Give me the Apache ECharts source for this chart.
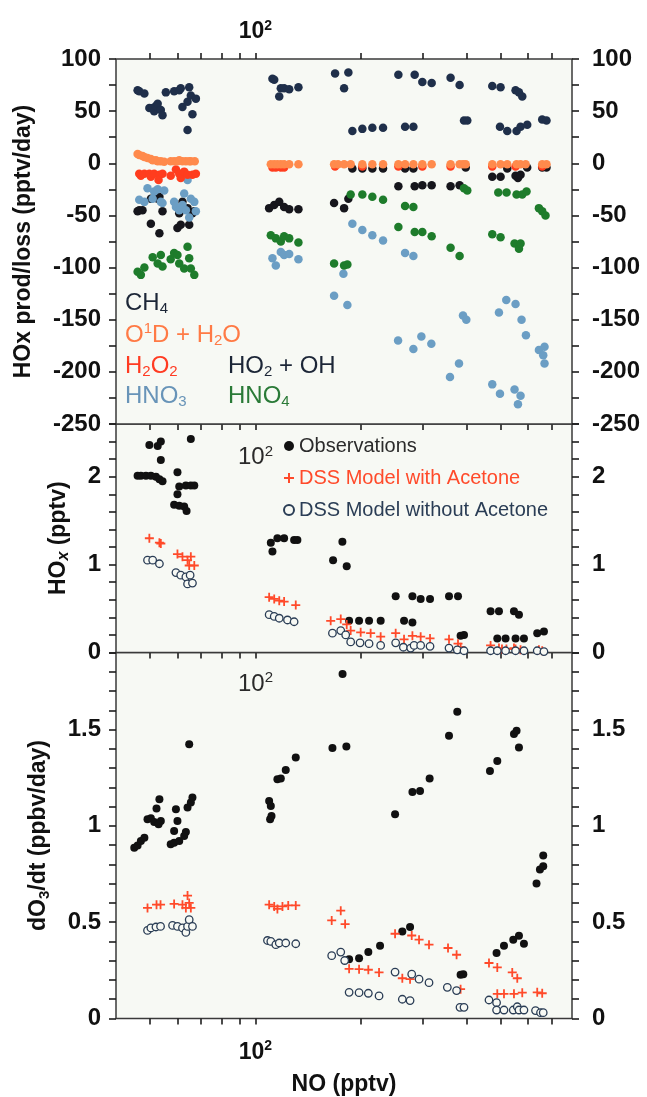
<!DOCTYPE html>
<html><head><meta charset="utf-8">
<script src="https://cdn.jsdelivr.net/npm/echarts@6.0.0/dist/echarts.min.js"></script>
<style>html,body{margin:0;padding:0;background:#fff}
#wrap{position:relative;width:647px;height:1097px;background:#fff}
.layer{position:absolute;left:0;top:0;width:647px;height:1097px}</style>
</head><body><div id="wrap">
<div class="layer" id="cBot"></div><div class="layer" id="cMid"></div><div class="layer" id="cTop"></div><div class="layer" id="cLeg"></div>
</div><script>
// ---------------- DATA (NO in pptv, value) ----------------
const ch4 = [[46.1,70],[46.6,69],[48.2,67],[49.8,53],[50.9,53],[51.4,50],[52.0,55],[52.6,57],[53.7,51],[54.3,46],[55.5,68],[58.6,69],[60.6,70],[61.2,72],[61.9,54],[64.0,59],[64.7,73],[65.4,65],[66.1,47],[64.0,32],[67.6,62],
[111.8,81],[113.1,80],[116.9,64],[118.1,72],[120.7,72],[124.8,71],[132.6,73],
[168.7,86],[179.0,72],[184.1,87],[189.0,31],[201.8,33],[215.5,34],[231.2,34],
[255.7,85],[267.2,35],[282.2,35],[284.6,85],[299.3,78],[318.2,77],
[360.3,82],[382.3,75],[393.5,41],[402.1,41],
[473.8,74],[500.4,73],[498.4,35],[522.9,31],[552.1,70],[564.6,68],[577.0,64],[555.8,31],[570.6,35],[596.2,37],[657.8,42],[676.7,41]];
const o1dH2o = [[46.1,9],[46.6,8],[47.6,7],[48.2,6],[49.2,5],[50.3,4],[50.9,3],[52.0,3],[52.6,2],[53.7,2],[54.9,1.5],[57.3,2],[58.6,2],[59.9,2],[60.6,3],[61.9,2],[63.3,2],[64.7,2],[65.4,2],[67.1,2],
[110.6,-1],[113.1,-1],[115.5,-1],[118.1,-1],[120.7,-1],[124.8,-1],[132.6,-1],[167.6,-1],[172,-1],[179.0,-1],[186.9,-1],[201.8,-1],[215.5,-1],[231.2,-1],[255.7,-1],[267.2,-1],[282.2,-1],[299.3,-1],[318.2,-1],[360.3,-1],[382.3,-1],[391,-1],[398,-1],[473.8,-1],[500.4,-1],[522.9,-1],[555.8,-1],[570.6,-1],[590,-1],[657.8,-1],[676.7,-1]];
const h2o2 = [[46.6,-10],[47.1,-12],[48.2,-10],[49.8,-10],[50.3,-13],[51.4,-10],[53.2,-11],[52.9,-16],[54.3,-10],[57.3,-12],[59.3,-6],[60.6,-10],[61.2,-14],[62.6,-8],[64.0,-11],[66.1,-11],[67.6,-10],
[111.8,-4],[114.3,-4],[118.1,-4],[120.7,-4],[168.7,-3],[201.8,-3],[255.7,-3],[299.3,-3],[360.3,-3],[473.8,-3],[552.1,-3],[657.8,-3]];
const ho2Oh = [[46.1,-46],[46.6,-45],[47.6,-45],[50.3,-34],[52.6,-34],[53.2,-32],[54.3,-46],[50.3,-58],[53.2,-67],[59.9,-62],[61.2,-59],[64.7,-59],[60.6,-48],[64.0,-43],[66.1,-48],[66.9,-46],[61.9,-37],
[109.4,-43],[113.1,-40],[116.9,-37],[120.7,-42],[124.8,-44],[132.6,-44],
[167.6,-38],[179.0,-43],[184.1,-34],
[189.0,-5],[201.8,-5],[215.5,-5],[231.2,-5],[267.2,-5],[282.2,-5],[398,-4],[522.9,-5],[596,-4],[657.8,-4],[676.7,-4],
[255.7,-22],[284.6,-22],[299.3,-21],[318.2,-21],[360.3,-22],[382.3,-21],
[473.8,-13],[500.4,-13],[552.1,-12],[560.9,-14],[570.6,-11]];
const hno3 = [[46.6,-35],[48.2,-37],[49.2,-24],[50.9,-34],[51.4,-27],[52.6,-25],[53.7,-37],[54.3,-38],[54.9,-26],[58.6,-37],[59.3,-42],[60.6,-45],[61.9,-40],[62.6,-29],[63.3,-45],[64.0,-16],[64.7,-52],[65.4,-34],[66.9,-37],[67.6,-46],
[111.8,-91],[114.3,-98],[118.1,-85],[120.7,-88],[124.8,-87],[132.6,-92],
[167.6,-127],[178.2,-106],[182.9,-136],[189.0,-58],[201.8,-64],[215.5,-69],[231.2,-74],
[255.2,-170],[267.2,-86],[282.2,-89],[282.2,-178],[297.4,-166],[317.5,-173],
[358.9,-205],[380.8,-192],[390.9,-146],[399.5,-150],
[473.8,-212],[495.1,-143],[498.4,-221],[519.5,-131],[548.5,-217],[552.1,-135],[560.9,-231],[570.6,-223],[574.3,-150],[591.1,-165],
[643.7,-179],[662.2,-184],[667.9,-176],[667.9,-192]];
const hno4 = [[46.1,-104],[47.1,-107],[48.2,-100],[50.9,-90],[52.6,-96],[53.7,-88],[54.3,-99],[57.3,-92],[58.6,-86],[59.9,-88],[60.6,-96],[62.6,-101],[64.0,-80],[64.7,-91],[65.4,-101],[66.9,-107],
[110.6,-69],[114.3,-72],[118.1,-75],[120.7,-70],[124.8,-72],[132.6,-76],
[167.6,-96],[179.0,-98],[182.9,-97],[186.9,-30],[201.8,-30],[215.5,-32],[231.2,-35],
[255.7,-61],[267.2,-41],[282.2,-42],[284.6,-66],[299.3,-66],[318.2,-70],
[360.3,-81],[382.3,-89],[393.5,-24],[402.1,-26],
[473.8,-68],[492.9,-28],[500.4,-71],[520.5,-28],[548.5,-77],[555.8,-30],[564.6,-82],[570.6,-77],[577.0,-30],[593.4,-27],
[643.7,-43],[657.8,-46],[672.2,-50]];

const hoxObs = [[46.1,2.01],[47.1,2.01],[48.7,2.01],[49.8,2.36],[50.3,2.01],[52.0,2.00],[52.6,2.35],[53.2,1.97],[53.7,2.40],[53.7,2.19],[54.3,1.95],[58.6,1.68],[59.9,2.05],[59.9,1.80],[60.6,1.67],[60.6,1.89],[62.6,1.66],[63.6,1.61],[63.3,1.90],[65.4,1.90],[66.9,1.90],[65.4,2.43],
[110.6,1.25],[111.8,1.15],[115.5,1.30],[120.7,1.30],[128.9,1.28],[131.7,1.28],
[166.5,1.05],[177.0,1.26],[182.1,0.98],[185.0,0.36],[197.5,0.36],[210.9,0.36],[227.6,0.36],
[251.2,0.64],[265.4,0.36],[280.4,0.34],[280.4,0.64],[296.0,0.61],[314.8,0.61],
[356.6,0.64],[378.3,0.64],[384.8,0.19],[393.5,0.20],
[468.6,0.47],[489.7,0.16],[495.1,0.47],[517.1,0.16],[546.4,0.47],[552.1,0.16],[564.6,0.43],[583.4,0.16],[636.6,0.22],[665.3,0.24]];
const hoxWith = [[49.8,1.30],[53.2,1.25],[53.7,1.24],[59.9,1.12],[61.9,1.09],[64.0,1.05],[64.7,0.99],[65.4,1.09],[66.9,0.99],
[109.4,0.63],[113.1,0.61],[116.9,0.59],[120.7,0.58],[130.3,0.54],
[163.9,0.36],[175.1,0.38],[182.1,0.32],[186.9,0.25],[199.6,0.23],[213.1,0.22],[227.6,0.18],
[251.2,0.22],[265.4,0.15],[280.4,0.19],[296.0,0.18],[314.8,0.16],
[356.6,0.15],[378.3,0.10],[384.8,0.06],
[468.6,0.08],[495.1,0.05],[505,0.04],[520,0.04],[546.4,0.05],[552,0.04],[570.6,0.03],[643.7,0.03],[657.8,0.02]];
const hoxWithout = [[49.2,1.05],[50.9,1.05],[53.2,1.01],[59.3,0.91],[61.2,0.88],[63.3,0.86],[64.0,0.78],[65.1,0.88],[66.1,0.79],
[109.4,0.43],[113.1,0.41],[116.9,0.39],[123.4,0.37],[128.9,0.35],
[165.8,0.22],[175.1,0.25],[180.9,0.20],[186.9,0.12],[198.8,0.11],[210.9,0.10],[227.6,0.08],
[251.2,0.11],[264.2,0.06],[277.2,0.05],[283.5,0.08],[296.0,0.08],[314.8,0.07],
[356.6,0.05],[376.5,0.03],[393.5,0.02],
[468.6,0.02],[489.7,0.02],[517.1,0.02],[552.1,0.02],[583.4,0.02],[636.6,0.02],[665.3,0.01]];

const do3Obs = [[45.1,0.886],[46.1,0.898],[47.1,0.921],[48.2,0.938],[49.2,1.034],[50.3,1.039],[51.4,1.02],[52.2,1.09],[52.9,1.008],[53.2,1.138],[53.7,1.025],[57.3,0.904],[58.6,0.912],[58.6,0.973],[59.3,1.086],[59.9,1.025],[60.6,0.921],[62.6,0.947],[63.3,0.968],[64.0,1.095],[64.7,1.424],[65.4,1.121],[66.1,1.147],
[109.4,1.129],[110.1,1.034],[110.6,1.103],[111.1,1.051],[115.5,1.242],[118.1,1.246],[122.0,1.29],[130.3,1.355],
[165.8,1.404],[177.2,1.789],[181.7,1.412],[185.0,0.308],[197.5,0.313],[209.9,0.345],[226.7,0.378],
[250.2,1.06],[262.4,0.452],[276.1,0.475],[280.4,1.176],[294.8,1.181],[314.0,1.246],
[356.6,1.468],[376.5,1.593],[384.8,0.227],[391.7,0.23],
[466.7,1.285],[487.4,0.34],[489.7,1.337],[511.7,0.378],[543.9,0.409],[546.4,1.477],[555.8,1.494],[564.6,1.407],[564.6,0.43],[583.4,0.388],
[633.7,0.701],[648.0,0.773],[662.2,0.791],[662.2,0.846]];
const do3With = [[49.2,0.574],[52.2,0.591],[53.6,0.591],[58.6,0.595],[61.9,0.591],[63.3,0.574],[64.0,0.638],[64.7,0.60],[65.4,0.574],
[109.4,0.591],[113.1,0.582],[115.5,0.569],[119.4,0.582],[124.0,0.587],[130.3,0.587],
[165.0,0.509],[175.1,0.56],[180.2,0.49],[185.0,0.258],[197.5,0.256],[209.9,0.253],[225.2,0.239],
[250.2,0.44],[262.4,0.209],[276.1,0.204],[279.1,0.431],[292.9,0.409],[312.7,0.383],
[354.3,0.366],[374.8,0.331],[384.8,0.152],
[463.7,0.288],[489.7,0.265],[489.7,0.128],[511.7,0.128],[540.3,0.239],[546.4,0.128],[558.4,0.209],[577.0,0.134],[636.6,0.136],[657.8,0.131]];
const do3Without = [[49.2,0.457],[50.3,0.47],[52.0,0.475],[53.6,0.478],[58.0,0.483],[59.9,0.478],[61.9,0.47],[63.3,0.447],[64.0,0.478],[64.7,0.513],[66.1,0.478],
[108.2,0.405],[110.6,0.40],[114.3,0.383],[116.9,0.392],[122.0,0.392],[130.3,0.388],
[165.0,0.326],[175.1,0.345],[179.7,0.301],[185.0,0.136],[197.5,0.134],[209.9,0.131],[225.2,0.117],
[250.2,0.241],[262.4,0.10],[276.1,0.093],[279.1,0.23],[292.9,0.204],[312.7,0.186],
[352.7,0.162],[374.8,0.145],[383.3,0.058],[393.5,0.058],
[463.7,0.096],[487.4,0.082],[487.4,0.044],[511.7,0.044],[543.9,0.044],[558.4,0.061],[564.6,0.044],[583.4,0.044],[629.5,0.041],[650.5,0.03],[662.2,0.03]];

// axis ranges / tick values / tick labels
const NO_MIN = 40, NO_MAX = 800;
const noTicks = [50,60,70,80,90,100,200,300,400,500,600,700];
const noLabels = [100];
const topTicks = [-250,-225,-200,-175,-150,-125,-100,-75,-50,-25,0,25,50,75,100];
const topLabels = [-250,-200,-150,-100,-50,0,50,100];
const midTicks = [0,0.2,0.4,0.6,0.8,1,1.2,1.4,1.6,1.8,2,2.2,2.4,2.6];
const midLabels = [0,1,2];
const botTicks = [0,0.1,0.2,0.3,0.4,0.5,0.6,0.7,0.8,0.9,1,1.1,1.2,1.3,1.4,1.5,1.6,1.7,1.8,1.9];
const botLabels = [0,0.5,1,1.5];
const yTop = {min:-250, max:100, ticks:topTicks, labels:topLabels};
const yMid = {min:0, max:2.6, ticks:midTicks, labels:midLabels};
const yBot = {min:0, max:1.9, ticks:botTicks, labels:botLabels};

// ---------------- STYLE ----------------
const FONT = "'Liberation Sans', Arial, Helvetica, sans-serif";
const AX = '#1e1e1e';
const BG = '#f7f9f4';
function gridAt(top, height) {
  return {left:116, top:top, width:456, height:height, show:true, backgroundColor:BG,
          borderColor:'#3a3a3a', borderWidth:1.5, outerBoundsMode:'none'};
}
function supRich(size, weight, color) {
  return {
    m:{fontFamily:FONT, fontSize:size, fontWeight:weight, color:color},
    p:{fontFamily:FONT, fontSize:Math.round(size*0.62), fontWeight:weight, color:color, padding:[0,0,Math.round(size*0.5),0]}
  };
}
const dataX = {type:'log', min:NO_MIN, max:NO_MAX, show:false};
function xTick(pos, inside, label) {
  return {
    type:'log', position:pos, min:NO_MIN, max:NO_MAX,
    axisLine:{show:false, onZero:false}, splitLine:{show:false},
    axisTick:{show:true, inside:inside, length:6, customValues:noTicks, lineStyle:{color:AX, width:1.6}},
    axisLabel:Object.assign({show:true, customValues:noLabels, formatter:() => '{m|10}{p|2}'}, label)
  };
}
function yAx(pos, r, nameOpt) {
  const a = {
    type:'value', position:pos, min:r.min, max:r.max,
    axisLine:{show:false, onZero:false}, splitLine:{show:false},
    axisTick:{show:true, inside:false, length:7, customValues:r.ticks, lineStyle:{color:AX, width:1.6}},
    axisLabel:{show:true, customValues:r.labels, margin: pos==='left' ? 15 : 20, fontFamily:FONT, fontSize:24, fontWeight:'bold', color:'#111'}
  };
  if (nameOpt) Object.assign(a, nameOpt);
  return a;
}
const nameBase = {fontFamily:FONT, fontSize:23, fontWeight:'bold', color:'#111'};
const subRich = {
  n:{fontFamily:FONT, fontSize:23, fontWeight:'bold', color:'#111'},
  s:{fontFamily:FONT, fontSize:15, fontWeight:'bold', color:'#111', padding:[11,0,0,0]},
  si:{fontFamily:FONT, fontSize:16, fontWeight:'bold', fontStyle:'italic', color:'#111', padding:[11,0,0,0]}
};

const PLUS = 'path://M4,0H6V4H10V6H6V10H4V6H0V4H4Z';
function sc(name, data, symbol, size, color, extra) {
  return Object.assign({
    type:'scatter', name, data, xAxisIndex:0, yAxisIndex:0,
    symbol, symbolSize:size, itemStyle:{color:color, opacity:1}, emphasis:{disabled:true}, animation:false
  }, extra||{});
}
const C = {ch4:'#1f2f4a', ho2:'#16161c', o1d:'#ff8a4c', h2o2:'#ff3d1e', hno3:'#6b9ec4', hno4:'#1e7c2b',
           obs:'#111111', withA:'#ff4a2a', without:'#2a3d55'};
const emptyStyle = {itemStyle:{color:BG, borderColor:C.without, borderWidth:1.3, opacity:1}};

// ---------- top panel ----------
const optTop = {
  backgroundColor:'transparent', animation:false,
  grid: gridAt(59, 365),
  xAxis: [dataX, xTick('top', false, {margin:14, rich:supRich(23,'bold','#111')})],
  yAxis: [
    yAx('left', yTop, {name:'HOx prod/loss (pptv/day)', nameLocation:'middle', nameRotate:90, nameGap:81, nameTextStyle:nameBase}),
    yAx('right', yTop)
  ],
  series: [
    sc('CH4', ch4, 'circle', 8.5, C.ch4),
    sc('HO2 + OH', ho2Oh, 'circle', 8.5, C.ho2),
    sc('HNO3', hno3, 'circle', 8.5, C.hno3),
    sc('HNO4', hno4, 'circle', 8.5, C.hno4),
    sc('H2O2', h2o2, 'circle', 8.5, C.h2o2),
    sc('O1D + H2O', o1dH2o, 'circle', 8.5, C.o1d)
  ]
};
// ---------- middle panel ----------
const optMid = {
  backgroundColor:'transparent', animation:false,
  grid: gridAt(424, 228.5),
  xAxis: [dataX, xTick('top', true, {inside:true, margin:20, rich:supRich(24,'normal','#2a2a2a')})],
  yAxis: [
    yAx('left', yMid, {name:'{n|HO}{si|x}{n| (pptv)}', nameLocation:'middle', nameRotate:90, nameGap:44, nameTextStyle:Object.assign({rich:subRich},nameBase)}),
    yAx('right', yMid)
  ],
  legend: {
    show:true, orient:'vertical', left:278, top:431, itemGap:12, itemWidth:10, itemHeight:10,
    selectedMode:false,
    textStyle:{fontFamily:FONT, fontSize:20, lineHeight:20},
    data:[
      {name:'Observations', textStyle:{color:'#2b2b2b'}},
      {name:'DSS Model with Acetone', textStyle:{color:'#ff4a2a'}},
      {name:'DSS Model without Acetone', textStyle:{color:'#2a3d55'}}
    ]
  },
  series: [
    sc('Observations', hoxObs, 'circle', 8, C.obs),
    sc('DSS Model with Acetone', hoxWith, PLUS, 9, C.withA),
    sc('DSS Model without Acetone', hoxWithout, 'circle', 7.5, C.without, emptyStyle)
  ]
};
// ---------- bottom panel ----------
const optBot = {
  backgroundColor:'#ffffff', animation:false,
  grid: gridAt(652.5, 366),
  xAxis: [dataX,
    xTick('top', true, {inside:true, margin:18, rich:supRich(24,'normal','#2a2a2a')}),
    Object.assign(xTick('bottom', false, {margin:21, rich:supRich(23,'bold','#111')}),
      {name:'NO (pptv)', nameLocation:'middle', nameGap:55, nameTextStyle:{fontFamily:FONT, fontSize:23, fontWeight:'bold', color:'#111'}})
  ],
  yAxis: [
    yAx('left', yBot, {name:'{n|dO}{s|3}{n|/dt (ppbv/day)}', nameLocation:'middle', nameRotate:90, nameGap:64, nameTextStyle:Object.assign({rich:subRich},nameBase)}),
    yAx('right', yBot)
  ],
  series: [
    sc('Observations', do3Obs, 'circle', 8, C.obs),
    sc('DSS Model with Acetone', do3With, PLUS, 9, C.withA),
    sc('DSS Model without Acetone', do3Without, 'circle', 7.5, C.without, emptyStyle)
  ]
};
// ---------- top-panel legend text ----------
function legText(x, y, text, color) {
  return {type:'text', x:x, y:y, silent:true,
    style:{text:text, align:'left', verticalAlign:'middle',
      rich:{
        n:{fontFamily:FONT, fontSize:24, fill:color},
        b:{fontFamily:FONT, fontSize:15, fill:color, padding:[12,0,0,0]},
        t:{fontFamily:FONT, fontSize:15, fill:color, padding:[0,0,12,0]}
      }}};
}
const optLeg = {
  backgroundColor:'transparent', animation:false,
  graphic: [
    legText(125, 303, '{n|CH}{b|4}', '#1c2637'),
    legText(125, 335, '{n|O}{t|1}{n|D + H}{b|2}{n|O}', '#ff7a45'),
    legText(125, 366, '{n|H}{b|2}{n|O}{b|2}', '#ff3b22'),
    legText(228, 366, '{n|HO}{b|2}{n| + OH}', '#1c2637'),
    legText(125, 396, '{n|HNO}{b|3}', '#6894b8'),
    legText(228, 396, '{n|HNO}{b|4}', '#2a7a37')
  ]
};

echarts.init(document.getElementById('cBot')).setOption(optBot);
echarts.init(document.getElementById('cMid')).setOption(optMid);
echarts.init(document.getElementById('cTop')).setOption(optTop);
echarts.init(document.getElementById('cLeg')).setOption(optLeg);
</script></body></html>
